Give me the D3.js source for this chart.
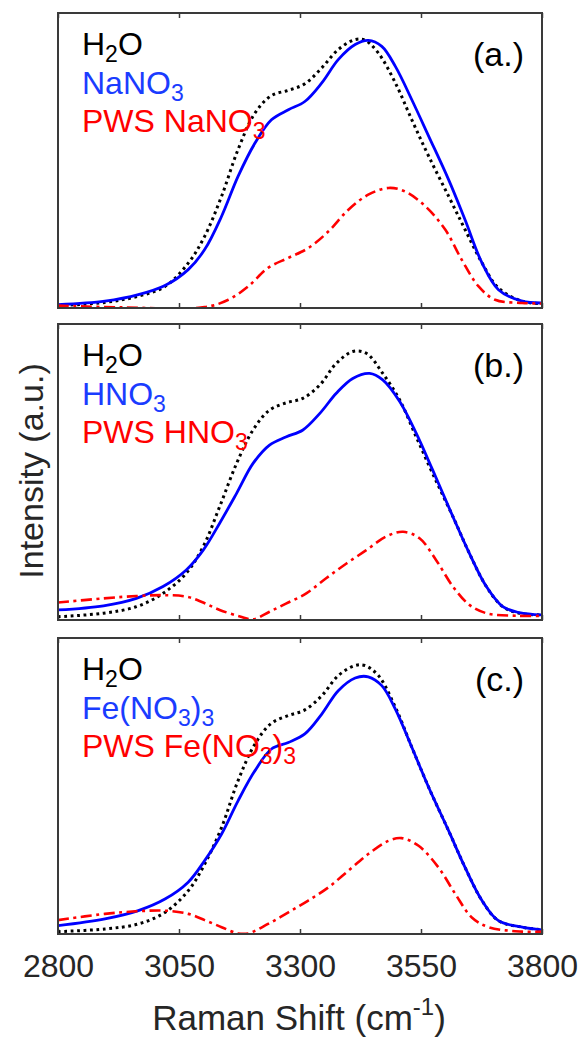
<!DOCTYPE html>
<html><head><meta charset="utf-8">
<script src="https://cdn.jsdelivr.net/npm/d3@7"></script>
<style>
html,body{margin:0;padding:0;background:#fff;}
svg{display:block;}
text{font-family:"Liberation Sans",Arial,Helvetica,sans-serif;}
</style></head>
<body>
<svg id="chart" width="579" height="1038"></svg>
<script>
// ---------- data ----------
const shiftTicks = [2800, 3050, 3300, 3550, 3800];
const panelLabels = ["(a.)", "(b.)", "(c.)"];
const legendA = ["H_2O", "NaNO_3", "PWS NaNO_3"];
const legendB = ["H_2O", "HNO_3", "PWS HNO_3"];
const legendC = ["H_2O", "Fe(NO_3)_3", "PWS Fe(NO_3)_3"];
const xTitle = "Raman Shift (cm";
const yTitle = "Intensity (a.u.)";

// panel (a)
const aH2OX = [2800,2897,2966,3021,3069,3103,3138,3172,3207,3241,3276,3310,3345,3379,3414,3434,3462,3497,3531,3566,3607,3641,3676,3710,3759,3800];
const aH2OY = [0.008,0.019,0.04,0.073,0.152,0.243,0.379,0.537,0.661,0.72,0.738,0.76,0.814,0.876,0.91,0.908,0.864,0.763,0.638,0.514,0.379,0.266,0.153,0.068,0.023,0.015];
const aSaltX = [2800,2897,2966,3021,3069,3103,3138,3172,3207,3241,3276,3310,3345,3379,3414,3441,3469,3497,3531,3566,3607,3641,3676,3710,3759,3800];
const aSaltY = [0.011,0.023,0.045,0.076,0.13,0.198,0.311,0.446,0.559,0.638,0.672,0.70,0.763,0.842,0.893,0.907,0.887,0.819,0.706,0.582,0.435,0.299,0.153,0.062,0.023,0.017];
const aPwsX = [2800,2931,3103,3152,3193,3234,3276,3317,3359,3400,3441,3483,3517,3559,3600,3634,3669,3703,3759,3800];
const aPwsY = [0.008,0.002,0.003,0.028,0.073,0.136,0.17,0.203,0.26,0.333,0.384,0.407,0.395,0.345,0.266,0.164,0.073,0.028,0.017,0.015];

// panel (b)
const bH2OX = [2800,2894,2962,3017,3065,3100,3134,3169,3203,3237,3272,3306,3341,3375,3409,3437,3471,3506,3540,3574,3616,3650,3685,3719,3753,3800];
const bH2OY = [0.011,0.023,0.045,0.09,0.158,0.248,0.383,0.529,0.642,0.709,0.734,0.749,0.794,0.867,0.907,0.901,0.833,0.743,0.619,0.495,0.349,0.225,0.113,0.045,0.023,0.017];
const bSaltX = [2800,2894,2962,3017,3065,3100,3134,3169,3203,3237,3272,3306,3341,3375,3409,3444,3471,3506,3540,3574,3616,3650,3685,3719,3753,3800];
const bSaltY = [0.034,0.048,0.073,0.113,0.169,0.236,0.327,0.428,0.529,0.591,0.619,0.642,0.698,0.766,0.816,0.833,0.811,0.738,0.631,0.507,0.349,0.225,0.113,0.045,0.025,0.017];
const bPwsX = [2800,2894,2962,3017,3065,3100,3134,3176,3203,3237,3272,3313,3354,3396,3437,3478,3513,3547,3581,3616,3650,3685,3753,3800];
const bPwsY = [0.059,0.073,0.081,0.084,0.079,0.059,0.034,0.012,0.002,0.028,0.056,0.09,0.141,0.191,0.236,0.282,0.298,0.276,0.203,0.113,0.051,0.023,0.014,0.014];

// panel (c)
const cH2OX = [2800,2897,2966,3021,3069,3103,3138,3172,3207,3241,3276,3310,3345,3379,3414,3434,3462,3497,3531,3566,3607,3641,3676,3710,3759,3800];
const cH2OY = [0.008,0.017,0.034,0.073,0.146,0.236,0.36,0.518,0.642,0.712,0.738,0.757,0.805,0.873,0.907,0.907,0.873,0.766,0.631,0.495,0.349,0.225,0.113,0.045,0.023,0.014];
const cSaltX = [2800,2897,2966,3021,3069,3103,3138,3172,3207,3241,3276,3310,3345,3379,3414,3441,3469,3497,3531,3566,3607,3641,3676,3710,3759,3800];
const cSaltY = [0.028,0.051,0.079,0.118,0.175,0.248,0.338,0.45,0.552,0.625,0.647,0.676,0.743,0.822,0.865,0.869,0.839,0.76,0.631,0.495,0.349,0.225,0.113,0.045,0.023,0.014];
const cPwsX = [2800,2897,2966,3021,3069,3103,3138,3172,3193,3234,3276,3317,3359,3400,3441,3483,3510,3545,3586,3621,3655,3690,3759,3800];
const cPwsY = [0.047,0.068,0.077,0.079,0.068,0.047,0.023,0.002,0.002,0.034,0.073,0.113,0.158,0.214,0.27,0.315,0.324,0.298,0.225,0.135,0.056,0.023,0.008,0.008];

const panels = [
  {label: panelLabels[0], legend: legendA, series: [[aH2OX,aH2OY],[aSaltX,aSaltY],[aPwsX,aPwsY]]},
  {label: panelLabels[1], legend: legendB, series: [[bH2OX,bH2OY],[bSaltX,bSaltY],[bPwsX,bPwsY]]},
  {label: panelLabels[2], legend: legendC, series: [[cH2OX,cH2OY],[cSaltX,cSaltY],[cPwsX,cPwsY]]}
];

// ---------- layout ----------
const svg = d3.select("#chart");
const xL = 58, xR = 542;
const tops = [13, 324, 638], bottoms = [308, 620, 934];
const x = d3.scaleLinear().domain([2800, 3800]).range([xL, xR]);
const styles = [
  {color: "#000000", width: 3, dash: "2.8,3.6"},
  {color: "#0000ff", width: 2.8, dash: null},
  {color: "#ff0000", width: 2.6, dash: "11,4.5,3,4.5"}
];
const legendColors = ["#000000", "#1a3cff", "#ff0000"];

function addRich(textSel, str, subSize, subDy) {
  const parts = str.split(/(_.)/).filter(s => s.length);
  let lowered = false;
  parts.forEach(p => {
    if (p[0] === "_") {
      textSel.append("tspan").attr("font-size", subSize).attr("dy", lowered ? 0 : subDy).text(p[1]);
      lowered = true;
    } else {
      const t = textSel.append("tspan").text(p);
      if (lowered) { t.attr("dy", -subDy); lowered = false; }
    }
  });
}

panels.forEach((p, i) => {
  const y = d3.scaleLinear().domain([0, 1]).range([bottoms[i], tops[i]]);
  const g = svg.append("g");
  const clipId = "clip" + i;
  svg.append("clipPath").attr("id", clipId).append("rect")
    .attr("x", xL).attr("y", tops[i]).attr("width", xR - xL).attr("height", bottoms[i] - tops[i]);

  // ticks (top & bottom, inward)
  const xb = d3.axisBottom(x).tickValues(shiftTicks).tickSizeInner(-5).tickSizeOuter(0).tickFormat(i === 2 ? d3.format("d") : "");
  const xt = d3.axisTop(x).tickValues(shiftTicks).tickSizeInner(-5).tickSizeOuter(0).tickFormat("");
  const gb = g.append("g").attr("transform", `translate(0,${bottoms[i]})`).call(xb);
  const gt = g.append("g").attr("transform", `translate(0,${tops[i]})`).call(xt);
  [gb, gt].forEach(a => {
    a.select(".domain").remove();
    a.selectAll("line").attr("stroke", "#3a3a3a").attr("stroke-width", 1.5);
  });
  if (i === 2) {
    gb.selectAll("text").attr("font-size", 32).attr("fill", "#262626").attr("y", 0).attr("dy", null)
      .attr("transform", "translate(0,43)").style("font-family", '"Liberation Sans",Arial,sans-serif');
  } else {
    gb.selectAll("text").remove();
  }
  gt.selectAll("text").remove();

  // lines
  const line = d3.line().x(d => x(d[0])).y(d => y(d[1])).curve(d3.curveCatmullRom.alpha(0.5));
  [0, 1, 2].forEach(k => {
    const [xs, ys] = p.series[k];
    const pts = xs.map((v, j) => [v, ys[j]]);
    g.append("path").datum(pts).attr("d", line)
      .attr("fill", "none").attr("stroke", styles[k].color)
      .attr("stroke-width", styles[k].width)
      .attr("stroke-dasharray", styles[k].dash)
      .attr("clip-path", `url(#${clipId})`);
  });

  // frame
  g.append("rect").attr("x", xL).attr("y", tops[i]).attr("width", xR - xL).attr("height", bottoms[i] - tops[i])
    .attr("fill", "none").attr("stroke", "#3a3a3a").attr("stroke-width", 2);

  // legend
  p.legend.forEach((s, k) => {
    const t = g.append("text").attr("x", 82).attr("y", tops[i] + 42 + k * 38.5)
      .attr("font-size", 32).attr("fill", legendColors[k]);
    addRich(t, s, 23, 7);
  });
  // panel label
  g.append("text").attr("x", 524).attr("y", tops[i] + 53).attr("text-anchor", "end")
    .attr("font-size", 34).attr("fill", "#000").text(p.label);
});

// axis titles
const xt = svg.append("text").attr("x", 299).attr("y", 1030).attr("text-anchor", "middle")
  .attr("font-size", 35).attr("fill", "#262626");
xt.append("tspan").text(xTitle);
xt.append("tspan").attr("font-size", 24).attr("dy", -15).text("-1");
xt.append("tspan").attr("dy", 15).text(")");

svg.append("text").attr("transform", "translate(43,471) rotate(-90)").attr("text-anchor", "middle")
  .attr("font-size", 34).attr("fill", "#262626").text(yTitle);
</script>
</body></html>
